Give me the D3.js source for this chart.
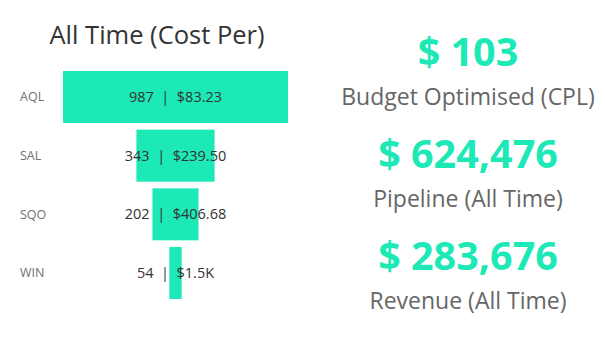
<!DOCTYPE html>
<html><head><meta charset="utf-8">
<script src="https://cdn.jsdelivr.net/npm/d3@7"></script>
<style>body{margin:0;background:#fff;} text{font-family:"Open Sans","Noto Sans",sans-serif;}</style>
</head><body>
<svg id="c" width="605" height="338"></svg>
<script>
const stages = ["AQL","SAL","SQO","WIN"];
const counts = [987,343,202,54];
const costLabels = ["$83.23","$239.50","$406.68","$1.5K"];
const kpiValues = ["$ 103","$ 624,476","$ 283,676"];
const kpiNames = ["Budget Optimised (CPL)","Pipeline (All Time)","Revenue (All Time)"];
const title = "All Time (Cost Per)";

const teal = "#1de9b6";
const svg = d3.select("#c");

svg.append("text").attr("x",157).attr("y",44).attr("text-anchor","middle")
  .attr("font-size",25.5).attr("fill","#333").text(title);

const y = d3.scaleBand().domain(stages).range([71,299]).paddingInner(0.1136).paddingOuter(0);
const w = d3.scaleLinear().domain([0,d3.max(counts)]).range([0,225]);
const cx = 175.5;

const g = svg.append("g");
stages.forEach((s,i)=>{
  g.append("rect").attr("x",cx - w(counts[i])/2).attr("y",y(s))
    .attr("width",w(counts[i])).attr("height",y.bandwidth()).attr("fill",teal);
  g.append("text").attr("x",20).attr("y",y(s)+y.bandwidth()/2).attr("dy","0.35em")
    .attr("font-size",12.5).attr("fill","#707070").text(s);
  g.append("text").attr("x",cx).attr("y",y(s)+y.bandwidth()/2).attr("dy","0.35em")
    .attr("text-anchor","middle").attr("font-size",14.5).attr("fill","#333")
    .attr("xml:space","preserve").style("white-space","pre")
    .text(counts[i] + "  |  " + costLabels[i]);
});

const kpiY = [66,168,270];
kpiValues.forEach((v,i)=>{
  svg.append("text").attr("x",468).attr("y",kpiY[i]).attr("text-anchor","middle")
    .attr("font-size",39.5).attr("font-weight",700).attr("fill",teal).text(v);
  svg.append("text").attr("x",468).attr("y",kpiY[i]+39).attr("text-anchor","middle")
    .attr("font-size",23).attr("fill","#666").text(kpiNames[i]);
});
</script>
</body></html>
